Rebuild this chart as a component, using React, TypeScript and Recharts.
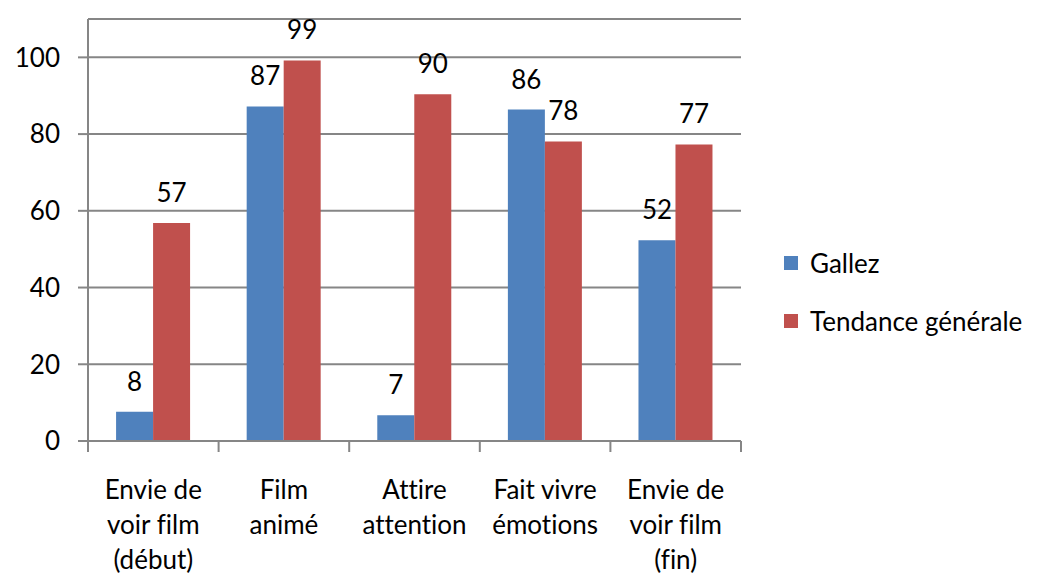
import React from 'react';
import { BarChart, Bar, XAxis, YAxis, CartesianGrid, LabelList } from 'recharts';

const categories = [
    'Envie de|voir film|(début)',
    'Film|animé',
    'Attire|attention',
    'Fait vivre|émotions',
    'Envie de|voir film|(fin)',
];
const gallez = [7.6, 87.2, 6.7, 86.4, 52.3];
const tendance = [56.8, 99.2, 90.4, 78.1, 77.3];
const yTicks = [0, 20, 40, 60, 80, 100];

const SERIES = [
    { key: 'gallez', name: 'Gallez', color: '#4f81bd' },
    { key: 'tendance', name: 'Tendance générale', color: '#c0504d' },
];

const FONT = 'Lato, "Open Sans", sans-serif';
const FS = 26;
const AXIS = '#868686';
const W = 1046;
const H = 577;
const M = { top: 19, right: 305, bottom: 0, left: 0 };
const X_H = 136;
const Y_W = 88;
const BAND = (W - M.right - Y_W) / categories.length;

const data = categories.map((c, i) => ({ cat: c, gallez: gallez[i], tendance: tendance[i] }));

const txt = { fontFamily: FONT, fontSize: FS, fill: '#000', fontVariantLigatures: 'none' } as any;

const CatTick = (props: any) => {
    const { x, y, payload, index } = props;
    const lines = String(payload.value).split('|');
    const left = x - BAND / 2;
    const base = y - 8; // axis line position
    return (
        <g>
            <line x1={left} y1={base} x2={left} y2={base + 11} stroke={AXIS} strokeWidth={2} />
            {index === categories.length - 1 && (
                <line x1={left + BAND} y1={base} x2={left + BAND} y2={base + 11} stroke={AXIS} strokeWidth={2} />
            )}
            <text x={x} y={base + 58} textAnchor="middle" style={txt}>
                {lines.map((l, i) => (
                    <tspan key={i} x={x} dy={i === 0 ? 0 : 35}>{l}</tspan>
                ))}
            </text>
        </g>
    );
};

const LegendBox = () => (
    <div style={{ position: 'absolute', left: 784, top: 248, fontFamily: FONT, fontSize: FS, color: '#000', fontVariantLigatures: 'none' }}>
        {SERIES.map((s, i) => (
            <div key={s.key} style={{ display: 'flex', alignItems: 'center', height: 30, marginBottom: i === 0 ? 28 : 0 }}>
                <span style={{ width: 14, height: 14, background: s.color, display: 'inline-block', marginRight: 12 }} />
                <span>{s.name}</span>
            </div>
        ))}
    </div>
);

export default function App() {
    return (
        <div style={{ position: 'absolute', left: 0, top: 0, width: W, height: H, background: '#fff' }}>
            <BarChart width={W} height={H} data={data} margin={M} barCategoryGap="21.5%" barGap={0}>
                <CartesianGrid horizontal vertical={false} stroke={AXIS} strokeWidth={2} />
                <XAxis dataKey="cat" tick={<CatTick />} tickLine={false} axisLine={{ stroke: AXIS, strokeWidth: 2 }} interval={0} height={X_H} />
                <YAxis
                    width={Y_W}
                    domain={[0, 110]}
                    ticks={yTicks}
                    tickSize={10}
                    tickMargin={18}
                    axisLine={{ stroke: AXIS, strokeWidth: 2 }}
                    tickLine={{ stroke: AXIS, strokeWidth: 2 }}
                    tick={txt}
                />
                {SERIES.map(s => (
                    <Bar key={s.key} dataKey={s.key} name={s.name} fill={s.color} isAnimationActive={false}>
                        <LabelList
                            dataKey={s.key}
                            position="top"
                            offset={21}
                            formatter={(v: any) => Math.round(Number(v))}
                            style={txt}
                        />
                    </Bar>
                ))}
            </BarChart>
            <LegendBox />
        </div>
    );
}
